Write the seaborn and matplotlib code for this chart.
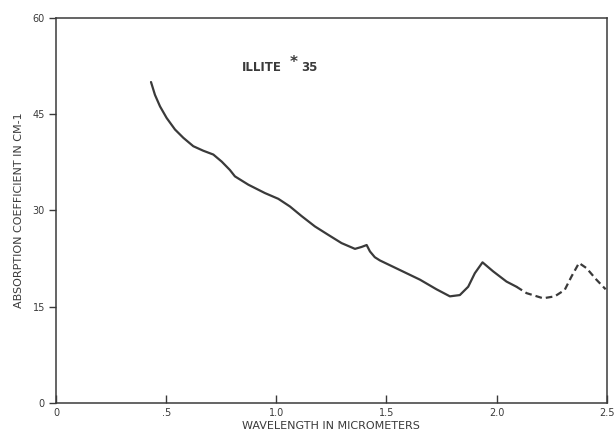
import matplotlib
matplotlib.use("Agg")
import matplotlib.pyplot as plt
import seaborn as sns

# Data (wavelength in micrometers, absorption coefficient in cm^-1)
wavelength_solid = [0.431, 0.449, 0.472, 0.502, 0.540, 0.578, 0.623, 0.668, 0.714, 0.752,
                    0.789, 0.812, 0.873, 0.948, 1.009, 1.062, 1.115, 1.175, 1.235, 1.296,
                    1.357, 1.387, 1.410, 1.425, 1.447, 1.470, 1.561, 1.652, 1.727, 1.788,
                    1.833, 1.871, 1.901, 1.936, 1.984, 2.045, 2.090]
absorb_solid = [50.0, 48.0, 46.2, 44.4, 42.6, 41.3, 40.0, 39.3, 38.7, 37.6,
                36.3, 35.3, 34.0, 32.7, 31.8, 30.6, 29.1, 27.5, 26.2, 24.9,
                24.0, 24.3, 24.6, 23.6, 22.7, 22.2, 20.7, 19.2, 17.7, 16.6,
                16.8, 18.1, 20.2, 21.9, 20.5, 18.9, 18.1]
wavelength_dashed = [2.090, 2.136, 2.211, 2.264, 2.309, 2.340, 2.374, 2.408, 2.453, 2.495]
absorb_dashed = [18.1, 17.1, 16.3, 16.6, 17.6, 19.7, 21.8, 21.0, 19.2, 17.7]

x_ticks = [0, 0.5, 1.0, 1.5, 2.0, 2.5]
x_ticklabels = ["0", ".5", "1.0", "1.5", "2.0", "2.5"]
y_ticks = [0, 15, 30, 45, 60]
y_ticklabels = ["0", "15", "30", "45", "60"]

sns.set_theme(style="ticks")
plt.rcParams['font.family'] = ['DejaVu Sans']

fig = plt.figure(figsize=(6.16, 4.36), dpi=100)
ax = fig.add_axes([0.091, 0.076, 0.894, 0.883])

ink = "#3a3a3a"
sns.lineplot(x=wavelength_solid, y=absorb_solid, ax=ax, color=ink, linewidth=1.6,
             solid_joinstyle="round", solid_capstyle="round")
sns.lineplot(x=wavelength_dashed, y=absorb_dashed, ax=ax, color=ink, linewidth=1.6,
             linestyle=(0, (3, 1.8)))

ax.set_xlim(0, 2.5)
ax.set_ylim(0, 60)
ax.set_xticks(x_ticks)
ax.set_xticklabels(x_ticklabels)
ax.set_yticks(y_ticks)
ax.set_yticklabels(y_ticklabels)

for s in ax.spines.values():
    s.set_color(ink)
    s.set_linewidth(1.1)
ax.tick_params(axis="x", direction="in", length=6, width=1, colors=ink, labelsize=7, pad=4)
ax.tick_params(axis="y", direction="out", length=5, width=1, colors=ink, labelsize=7, pad=3)

ax.set_xlabel("WAVELENGTH IN MICROMETERS", fontsize=8, color=ink, labelpad=2)
ax.set_ylabel("ABSORPTION COEFFICIENT IN CM-1", fontsize=8, color=ink, labelpad=6)

ax.text(0.844, 52.3, "ILLITE", fontsize=8.5, color=ink, fontweight="bold", va="center", ha="left")
ax.text(1.062, 53.0, "*", fontsize=11, color=ink, fontweight="bold", va="center", ha="left")
ax.text(1.112, 52.3, "35", fontsize=8.5, color=ink, fontweight="bold", va="center", ha="left")

fig.savefig("out.png", dpi=100)
